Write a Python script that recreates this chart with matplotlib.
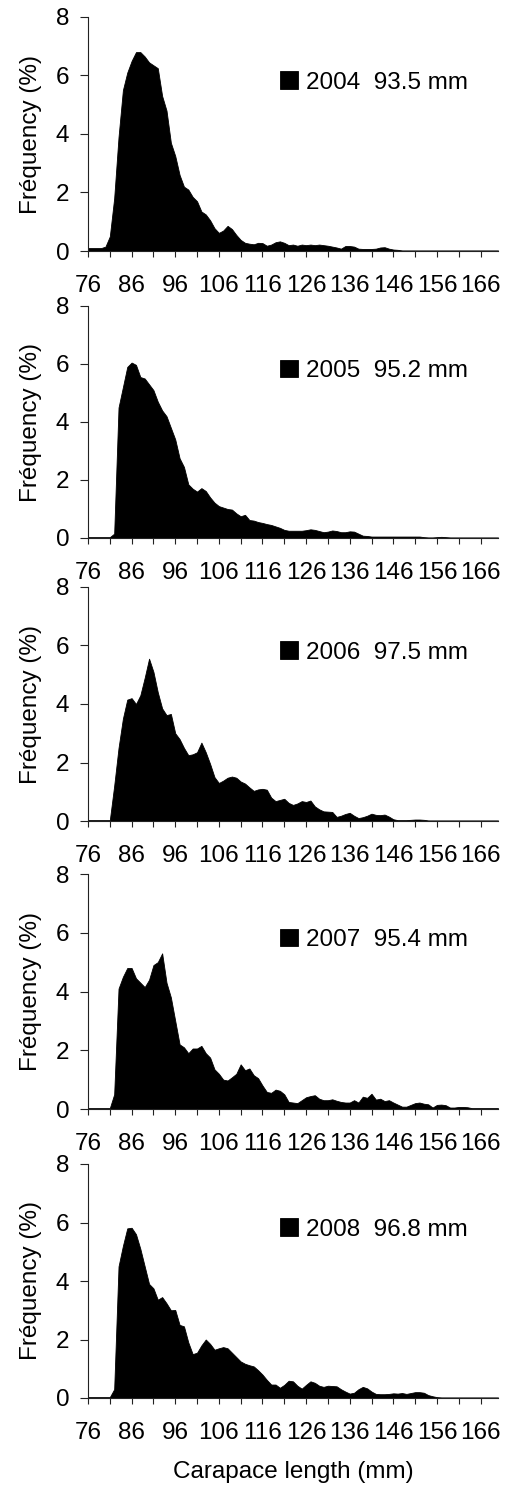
import numpy as np
import matplotlib
matplotlib.use('Agg')
import matplotlib.pyplot as plt

plt.rcParams['font.family'] = ['Liberation Sans', 'DejaVu Sans']

# carapace length classes (mm)
lengths = np.arange(76, 171)

years = ['2004', '2005', '2006', '2007', '2008']
means = ['93.5 mm', '95.2 mm', '97.5 mm', '95.4 mm', '96.8 mm']

freq_2004 = [0.1, 0.1, 0.1, 0.1, 0.15, 0.5, 1.8, 3.9, 5.5, 6.1,
             6.5, 6.8, 6.8, 6.65, 6.45, 6.35, 6.25, 5.3, 4.8, 3.7,
             3.25, 2.6, 2.2, 2.1, 1.85, 1.7, 1.35, 1.25, 1.05, 0.78,
             0.62, 0.7, 0.86, 0.75, 0.55, 0.38, 0.28, 0.25, 0.23, 0.28,
             0.27, 0.18, 0.22, 0.3, 0.33, 0.28, 0.2, 0.22, 0.18, 0.22,
             0.2, 0.22, 0.2, 0.22, 0.2, 0.18, 0.15, 0.12, 0.08, 0.17,
             0.17, 0.15, 0.08, 0.07, 0.07, 0.07, 0.08, 0.12, 0.13, 0.08,
             0.05, 0.04] + [0.02] * 23

freq_2005 = [0.03] * 6 + [0.15, 4.5, 5.2, 5.9,
             6.05, 5.97, 5.55, 5.5, 5.3, 5.1, 4.7, 4.4, 4.2, 3.8,
             3.4, 2.75, 2.45, 1.85, 1.7, 1.6, 1.72, 1.62, 1.4, 1.22,
             1.1, 1.05, 1.0, 0.98, 0.85, 0.75, 0.8, 0.62, 0.6, 0.55,
             0.52, 0.48, 0.45, 0.4, 0.35, 0.28, 0.25, 0.25, 0.25, 0.25,
             0.27, 0.3, 0.28, 0.24, 0.2, 0.22, 0.26, 0.24, 0.2, 0.2,
             0.23, 0.22, 0.15, 0.08, 0.07] + [0.05] * 12 + [
             0.03, 0.02, 0.02, 0.03, 0.04, 0.03] + [0.02] * 12

freq_2006 = [0.03] * 6 + [1.2, 2.5, 3.5, 4.15,
             4.2, 4.0, 4.3, 4.9, 5.55, 5.1, 4.4, 3.85, 3.62, 3.66,
             3.0, 2.8, 2.5, 2.25, 2.28, 2.35, 2.68, 2.35, 1.95, 1.5,
             1.3, 1.38, 1.48, 1.52, 1.48, 1.35, 1.28, 1.15, 1.03, 1.08,
             1.1, 1.07, 0.8, 0.68, 0.72, 0.76, 0.62, 0.55, 0.6, 0.68,
             0.65, 0.7, 0.5, 0.4, 0.33, 0.32, 0.31, 0.14, 0.18, 0.24,
             0.28, 0.18, 0.1, 0.13, 0.18, 0.25, 0.21, 0.2, 0.22, 0.15,
             0.06, 0.03, 0.03, 0.03, 0.04, 0.05, 0.05, 0.04] + [0.02] * 17

freq_2007 = [0.03] * 6 + [0.5, 4.1, 4.5, 4.8,
             4.8, 4.45, 4.3, 4.15, 4.4, 4.9, 5.0, 5.3, 4.3, 3.8,
             3.0, 2.2, 2.1, 1.9, 2.06, 2.06, 2.15, 1.9, 1.75, 1.35,
             1.2, 1.0, 0.97, 1.08, 1.2, 1.52, 1.32, 1.38, 1.15, 1.05,
             0.8, 0.58, 0.55, 0.66, 0.62, 0.5, 0.24, 0.22, 0.2, 0.3,
             0.4, 0.44, 0.47, 0.35, 0.3, 0.3, 0.33, 0.28, 0.24, 0.22,
             0.22, 0.3, 0.22, 0.42, 0.38, 0.52, 0.32, 0.35, 0.27, 0.3,
             0.22, 0.15, 0.08, 0.08, 0.14, 0.2, 0.22, 0.18, 0.16, 0.05,
             0.14, 0.15, 0.13, 0.05, 0.05, 0.07, 0.07, 0.06] + [0.03] * 7

freq_2008 = [0.03] * 6 + [0.3, 4.5, 5.2, 5.8,
             5.82, 5.6, 5.1, 4.5, 3.9, 3.75, 3.36, 3.45, 3.24, 3.0,
             3.01, 2.5, 2.45, 1.9, 1.5, 1.55, 1.8, 2.0, 1.85, 1.65,
             1.7, 1.74, 1.7, 1.55, 1.4, 1.25, 1.17, 1.12, 1.08, 0.95,
             0.8, 0.62, 0.46, 0.46, 0.35, 0.45, 0.59, 0.57, 0.42, 0.32,
             0.45, 0.57, 0.52, 0.42, 0.38, 0.42, 0.41, 0.4, 0.3, 0.22,
             0.15, 0.18, 0.3, 0.38, 0.33, 0.22, 0.14, 0.13, 0.13, 0.14,
             0.16, 0.15, 0.17, 0.14, 0.17, 0.2, 0.2, 0.18, 0.1, 0.06,
             0.03] + [0.02] * 14

series = [freq_2004, freq_2005, freq_2006, freq_2007, freq_2008]

W, H = 505, 1490
fig = plt.figure(figsize=(W / 100, H / 100), dpi=100)

# panel placement in pixels (top of y=8, y=0 line)
tops = [17, 306, 587, 874, 1164]
zeros = [251, 538, 821, 1109, 1398]
left_px, right_px = 88, 498

fs = 17.5
for i, y in enumerate(series):
    ax = fig.add_axes([left_px / W, 1 - zeros[i] / H,
                       (right_px - left_px) / W, (zeros[i] - tops[i]) / H])
    ax.fill_between(lengths, y, 0, color='black', lw=0.6,
                    label=years[i] + '  ' + means[i])
    ax.set_xlim(76, 170)
    ax.set_ylim(0, 8)
    ax.set_yticks([0, 2, 4, 6, 8])
    ax.set_xticks(np.arange(76, 170, 10))
    ax.set_xticks(np.arange(81, 170, 10), minor=True)
    ax.spines['top'].set_visible(False)
    ax.spines['right'].set_visible(False)
    for s in ['left', 'bottom']:
        ax.spines[s].set_linewidth(0.8)
        ax.spines[s].set_color('#222222')
    ax.tick_params(axis='x', which='both', direction='out', length=4.5,
                   width=0.8, color='#222222', pad=13, labelsize=fs)
    ax.tick_params(axis='y', direction='out', length=5.5, width=0.8,
                   color='#222222', pad=8, labelsize=fs)
    ax.set_ylabel('Fréquency (%)', fontsize=fs, labelpad=10)
    ax.legend(loc='center left', bbox_to_anchor=(0.469, 0.72), frameon=False,
              fontsize=fs, handlelength=0.74, handleheight=0.74,
              handletextpad=0.3, borderpad=0, borderaxespad=0)
    if i == len(series) - 1:
        ax.set_xlabel('Carapace length (mm)', fontsize=fs, labelpad=12)

fig.savefig('out.png', dpi=100)
